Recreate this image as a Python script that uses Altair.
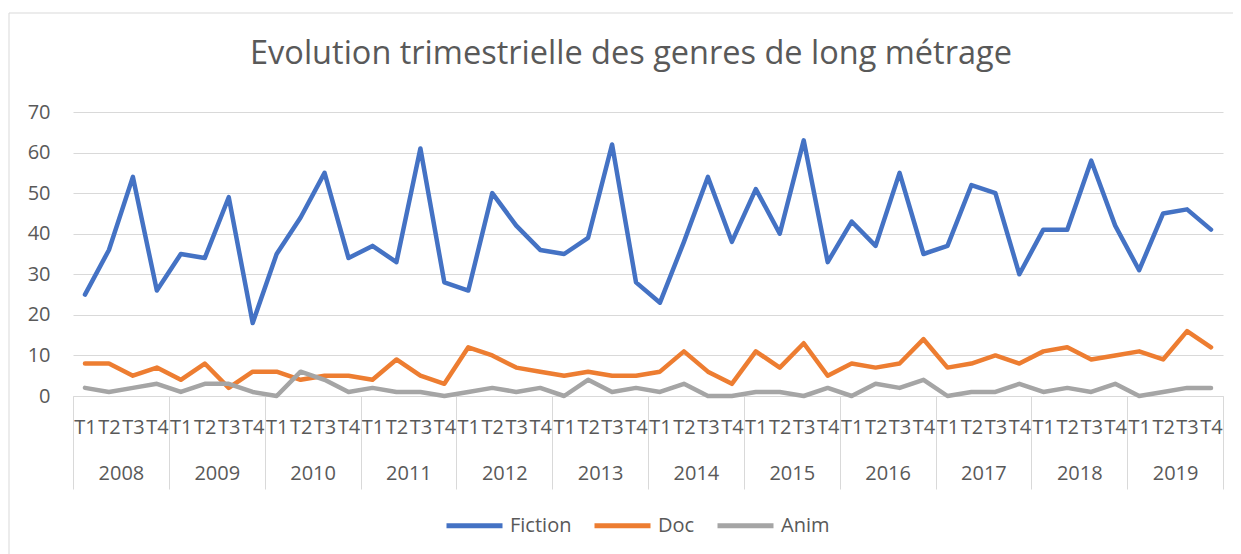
import altair as alt
import pandas as pd

years = [str(y) for y in range(2008, 2020)]
quarters = ["T1", "T2", "T3", "T4"]
series_names = ["Fiction", "Doc", "Anim"]
series_colors = ["#4472C4", "#ED7D31", "#A5A5A5"]

fiction = [25, 36, 54, 26, 35, 34, 49, 18, 35, 44, 55, 34, 37, 33, 61, 28,
           26, 50, 42, 36, 35, 39, 62, 28, 23, 38, 54, 38, 51, 40, 63, 33,
           43, 37, 55, 35, 37, 52, 50, 30, 41, 41, 58, 42, 31, 45, 46, 41]
doc = [8, 8, 5, 7, 4, 8, 2, 6, 6, 4, 5, 5, 4, 9, 5, 3,
       12, 10, 7, 6, 5, 6, 5, 5, 6, 11, 6, 3, 11, 7, 13, 5,
       8, 7, 8, 14, 7, 8, 10, 8, 11, 12, 9, 10, 11, 9, 16, 12]
anim = [2, 1, 2, 3, 1, 3, 3, 1, 0, 6, 4, 1, 2, 1, 1, 0,
        1, 2, 1, 2, 0, 4, 1, 2, 1, 3, 0, 0, 1, 1, 0, 2,
        0, 3, 2, 4, 0, 1, 1, 3, 1, 2, 1, 3, 0, 1, 2, 2]
y_ticks = [0, 10, 20, 30, 40, 50, 60, 70]
title_text = "Evolution trimestrielle des genres de long métrage"

keys = [f"{y}-{q}" for y in years for q in quarters]
rows = []
for name, vals in zip(series_names, [fiction, doc, anim]):
    for k, v in zip(keys, vals):
        rows.append({"q": k, "serie": name, "value": v})
df = pd.DataFrame(rows)
year_df = pd.DataFrame({"year": years})

TXT = "#595959"
GRID = "#D9D9D9"
FONT = "Open Sans"

frame = alt.Chart(pd.DataFrame({"a": [0]})).mark_rect(
    fillOpacity=0, stroke=GRID, strokeWidth=1
).encode(x=alt.value(-64), x2=alt.value(1400), y=alt.value(-99), y2=alt.value(700))

lines = alt.Chart(df).mark_line(
    strokeWidth=4.5, strokeCap="round", strokeJoin="round"
).encode(
    x=alt.X("q:N", sort=keys, scale=alt.Scale(type="point", padding=0.5),
            axis=alt.Axis(orient="bottom", title=None,
                          labelExpr="slice(datum.value, 5)", labelAngle=0,
                          labelOverlap=False, labelFlush=False, ticks=False,
                          domain=True, domainColor=GRID, domainWidth=1,
                          labelPadding=21, grid=False, labelFontSize=20,
                          labelColor=TXT, labelFont=FONT)),
    y=alt.Y("value:Q", scale=alt.Scale(domain=[0, 70], nice=False),
            axis=alt.Axis(values=y_ticks, title=None, ticks=False, domain=False,
                          grid=True, gridColor=GRID, gridWidth=1, labelPadding=23,
                          labelFontSize=20, labelColor=TXT, labelFont=FONT)),
    color=alt.Color("serie:N", sort=series_names,
                    scale=alt.Scale(domain=series_names, range=series_colors),
                    legend=alt.Legend(orient="none", legendX=371, legendY=383,
                                      direction="horizontal", title=None,
                                      symbolType="stroke", symbolSize=3136,
                                      symbolStrokeWidth=5, labelFontSize=20,
                                      labelColor=TXT, labelFont=FONT,
                                      labelOffset=5, columnPadding=12)),
    order=alt.Order("serie:N"),
)

year_layer = alt.Chart(year_df).mark_point(opacity=0).encode(
    x=alt.X("year:N", sort=years,
            scale=alt.Scale(type="band", paddingInner=0, paddingOuter=0),
            axis=alt.Axis(orient="bottom", title=None, tickBand="extent",
                          tickSize=93, tickColor=GRID, tickWidth=1, domain=False,
                          labelPadding=-26, labelAngle=0, grid=False,
                          labelFontSize=20, labelColor=TXT, labelFont=FONT,
                          labelOverlap=False, labelFlush=False)),
)

chart = alt.layer(frame, lines, year_layer).resolve_scale(
    x="independent"
).resolve_axis(x="independent").properties(
    width=1150, height=284,
    autosize=alt.AutoSizeParams(type="none"),
    padding={"left": 65, "top": 104, "right": 10, "bottom": 160},
    title=alt.TitleParams(text=title_text, fontSize=32.5, font=FONT, color=TXT,
                          fontWeight="normal", anchor="middle", dx=-17, dy=119,
                          baseline="alphabetic", offset=35),
).configure_view(strokeWidth=0)

chart.save("out.html", embed_options={"renderer": "svg", "actions": False})
